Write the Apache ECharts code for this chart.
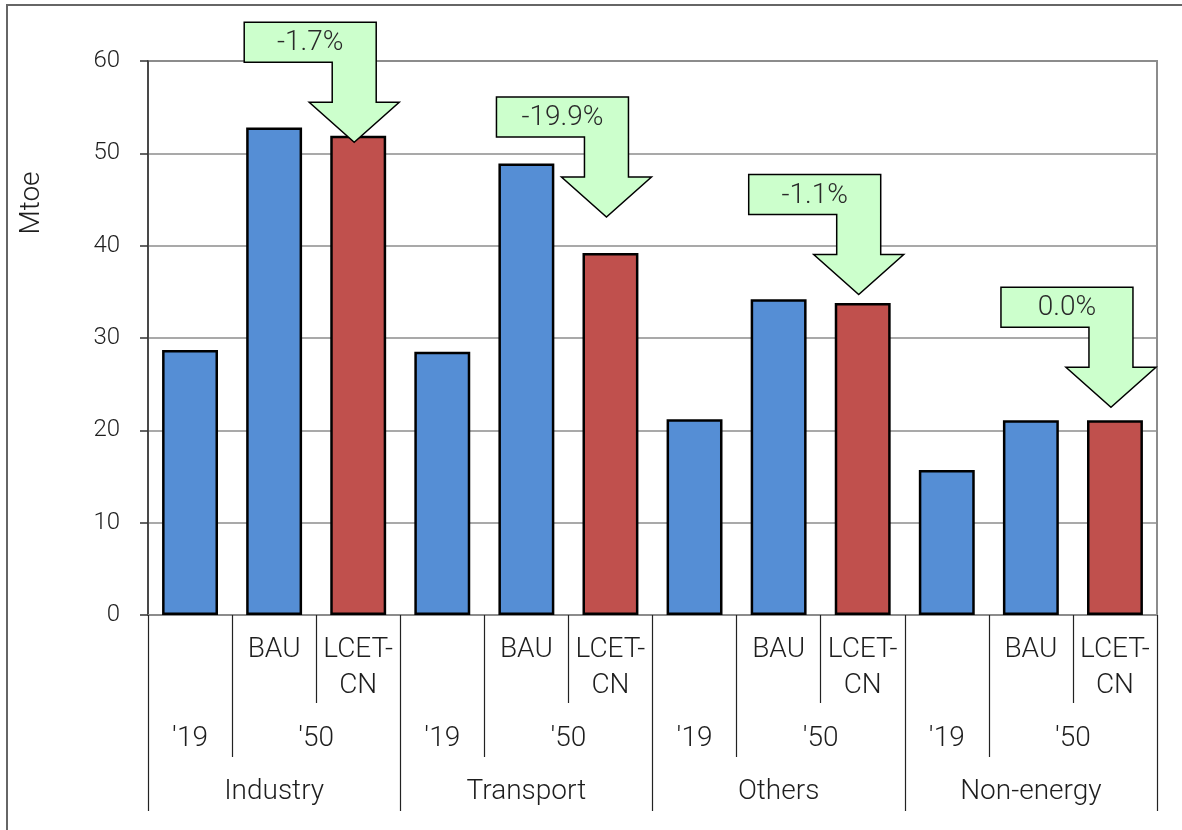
<!DOCTYPE html>
<html><head><meta charset="utf-8">
<script src="https://cdn.jsdelivr.net/npm/echarts@6/dist/echarts.min.js"></script>
<style>html,body{margin:0;padding:0;background:#fff}#c{width:1182px;height:830px}</style>
</head><body><div id="c"></div>
<script>
const groups = ['Industry', 'Transport', 'Others', 'Non-energy'];
const scenarios = ['', 'BAU', 'LCET-\nCN'];
const years = ["'19", "'50"];
const y2019 = [28.7, 28.5, 21.2, 15.7];
const bau2050 = [52.8, 48.9, 34.2, 21.1];
const lcet2050 = [51.9, 39.2, 33.8, 21.1];
const changeLabels = ['-1.7%', '-19.9%', '-1.1%', '0.0%'];
const arrowTipValues = [51.2, 43.1, 34.7, 22.5];
const yMin = 0, yMax = 60, yStep = 10;

const categories = [];
groups.forEach(g => scenarios.forEach(s => categories.push(g + ' ' + (s || "'19"))));
const blueData = [], redData = [];
groups.forEach((g, i) => { blueData.push(y2019[i], bau2050[i], null); redData.push(null, null, lcet2050[i]); });

// half-slot label axes (boundaryGap false, 2 points per bar)
const nPts = categories.length * 2 + 1;
const ptNames = Array.from({length: nPts}, (_, j) => 'p' + j);
const lvl1 = Array(nPts).fill(''), lvl2 = Array(nPts).fill(''), lvl3 = Array(nPts).fill('');
categories.forEach((c, k) => { lvl1[2 * k + 1] = scenarios[k % 3]; });
groups.forEach((g, i) => { lvl2[6 * i + 1] = years[0]; lvl2[6 * i + 4] = years[1]; lvl3[6 * i + 3] = g; });

const FONT = 'Roboto';
const FW = 300;
const txt = '#1e1e1e';

function levelAxis(labels, margin, tickLen, tickRule) {
  return {
    type: 'category', gridIndex: 0, position: 'bottom', boundaryGap: false, data: ptNames,
    axisLine: {show: false},
    axisTick: {show: true, length: tickLen, interval: (idx) => idx % 2 === 0 && tickRule((idx / 2) % 3),
      lineStyle: {color: '#222', width: 1.2}},
    axisLabel: {show: true, interval: 0, margin: margin, formatter: (v, idx) => labels[idx],
      fontSize: 28, lineHeight: 36, color: txt, fontFamily: FONT, fontWeight: FW},
    splitLine: {show: false}
  };
}

const chart = echarts.init(document.getElementById('c'), null, {renderer: 'canvas'});
chart.setOption({
  animation: false,
  backgroundColor: '#fff',
  textStyle: {fontFamily: FONT, fontWeight: FW},
  grid: {left: 148, right: 25, top: 61, bottom: 215, show: true, borderColor: '#8c8c8c', borderWidth: 2, containLabel: false},
  graphic: [
    {type: 'rect', shape: {x: 7, y: 5, width: 1400, height: 1000}, style: {fill: 'none', stroke: '#666', lineWidth: 2}, silent: true},
    {type: 'text', x: 32, y: 203, rotation: Math.PI / 2,
      style: {text: 'Mtoe', font: '300 28px Roboto', fill: txt, align: 'center', verticalAlign: 'middle'}}
  ],
  xAxis: [
    {type: 'category', data: categories, gridIndex: 0, position: 'bottom',
      axisLine: {show: true, lineStyle: {color: '#8c8c8c', width: 2}},
      axisTick: {show: false}, axisLabel: {show: false}, splitLine: {show: false}},
    levelAxis(lvl1, 17, 88, r => r === 2),
    levelAxis(lvl2, 106, 142, r => r === 1),
    levelAxis(lvl3, 159, 196, r => r === 0)
  ],
  yAxis: {
    type: 'value', min: yMin, max: yMax, interval: yStep,
    axisLine: {show: true, lineStyle: {color: '#333', width: 1.5}},
    axisTick: {show: true, length: 8, lineStyle: {color: '#333', width: 1.5}},
    axisLabel: {fontSize: 24, color: txt, margin: 28, fontFamily: FONT, fontWeight: FW},
    splitLine: {show: true, lineStyle: {color: '#8c8c8c', width: 1.5}}
  },
  series: [
    {type: 'bar', name: 'blue', data: blueData, barWidth: '66.5%', barGap: '-100%',
      itemStyle: {color: '#558ED5', borderColor: '#000', borderWidth: 2.5}},
    {type: 'bar', name: 'red', data: redData, barWidth: '66.5%', barGap: '-100%',
      itemStyle: {color: '#C0504D', borderColor: '#000', borderWidth: 2.5}},
    {type: 'custom', name: 'change', xAxisIndex: 0, yAxisIndex: 0, z: 10,
      data: groups.map((g, i) => [i * 3 + 2, arrowTipValues[i]]),
      renderItem: function (params, api) {
        const p = api.coord([api.value(0), api.value(1)]);
        const x = p[0] - 4, y = p[1];
        const rel = [[-110, -120], [22, -120], [22, -40], [45, -40], [0, 0], [-45, -40], [-22, -40], [-22, -80], [-110, -80]];
        const pts = rel.map(q => [x + q[0], y + q[1]]);
        return {type: 'group', children: [
          {type: 'polygon', shape: {points: pts}, style: {fill: '#CCFFCC', stroke: '#000', lineWidth: 1.5}},
          {type: 'text', x: x - 44, y: y - 99,
            style: {text: changeLabels[params.dataIndex], fill: '#2a2a2a', font: '300 28px Roboto', align: 'center', verticalAlign: 'middle'}}
        ]};
      }}
  ]
});
</script>
</body></html>
